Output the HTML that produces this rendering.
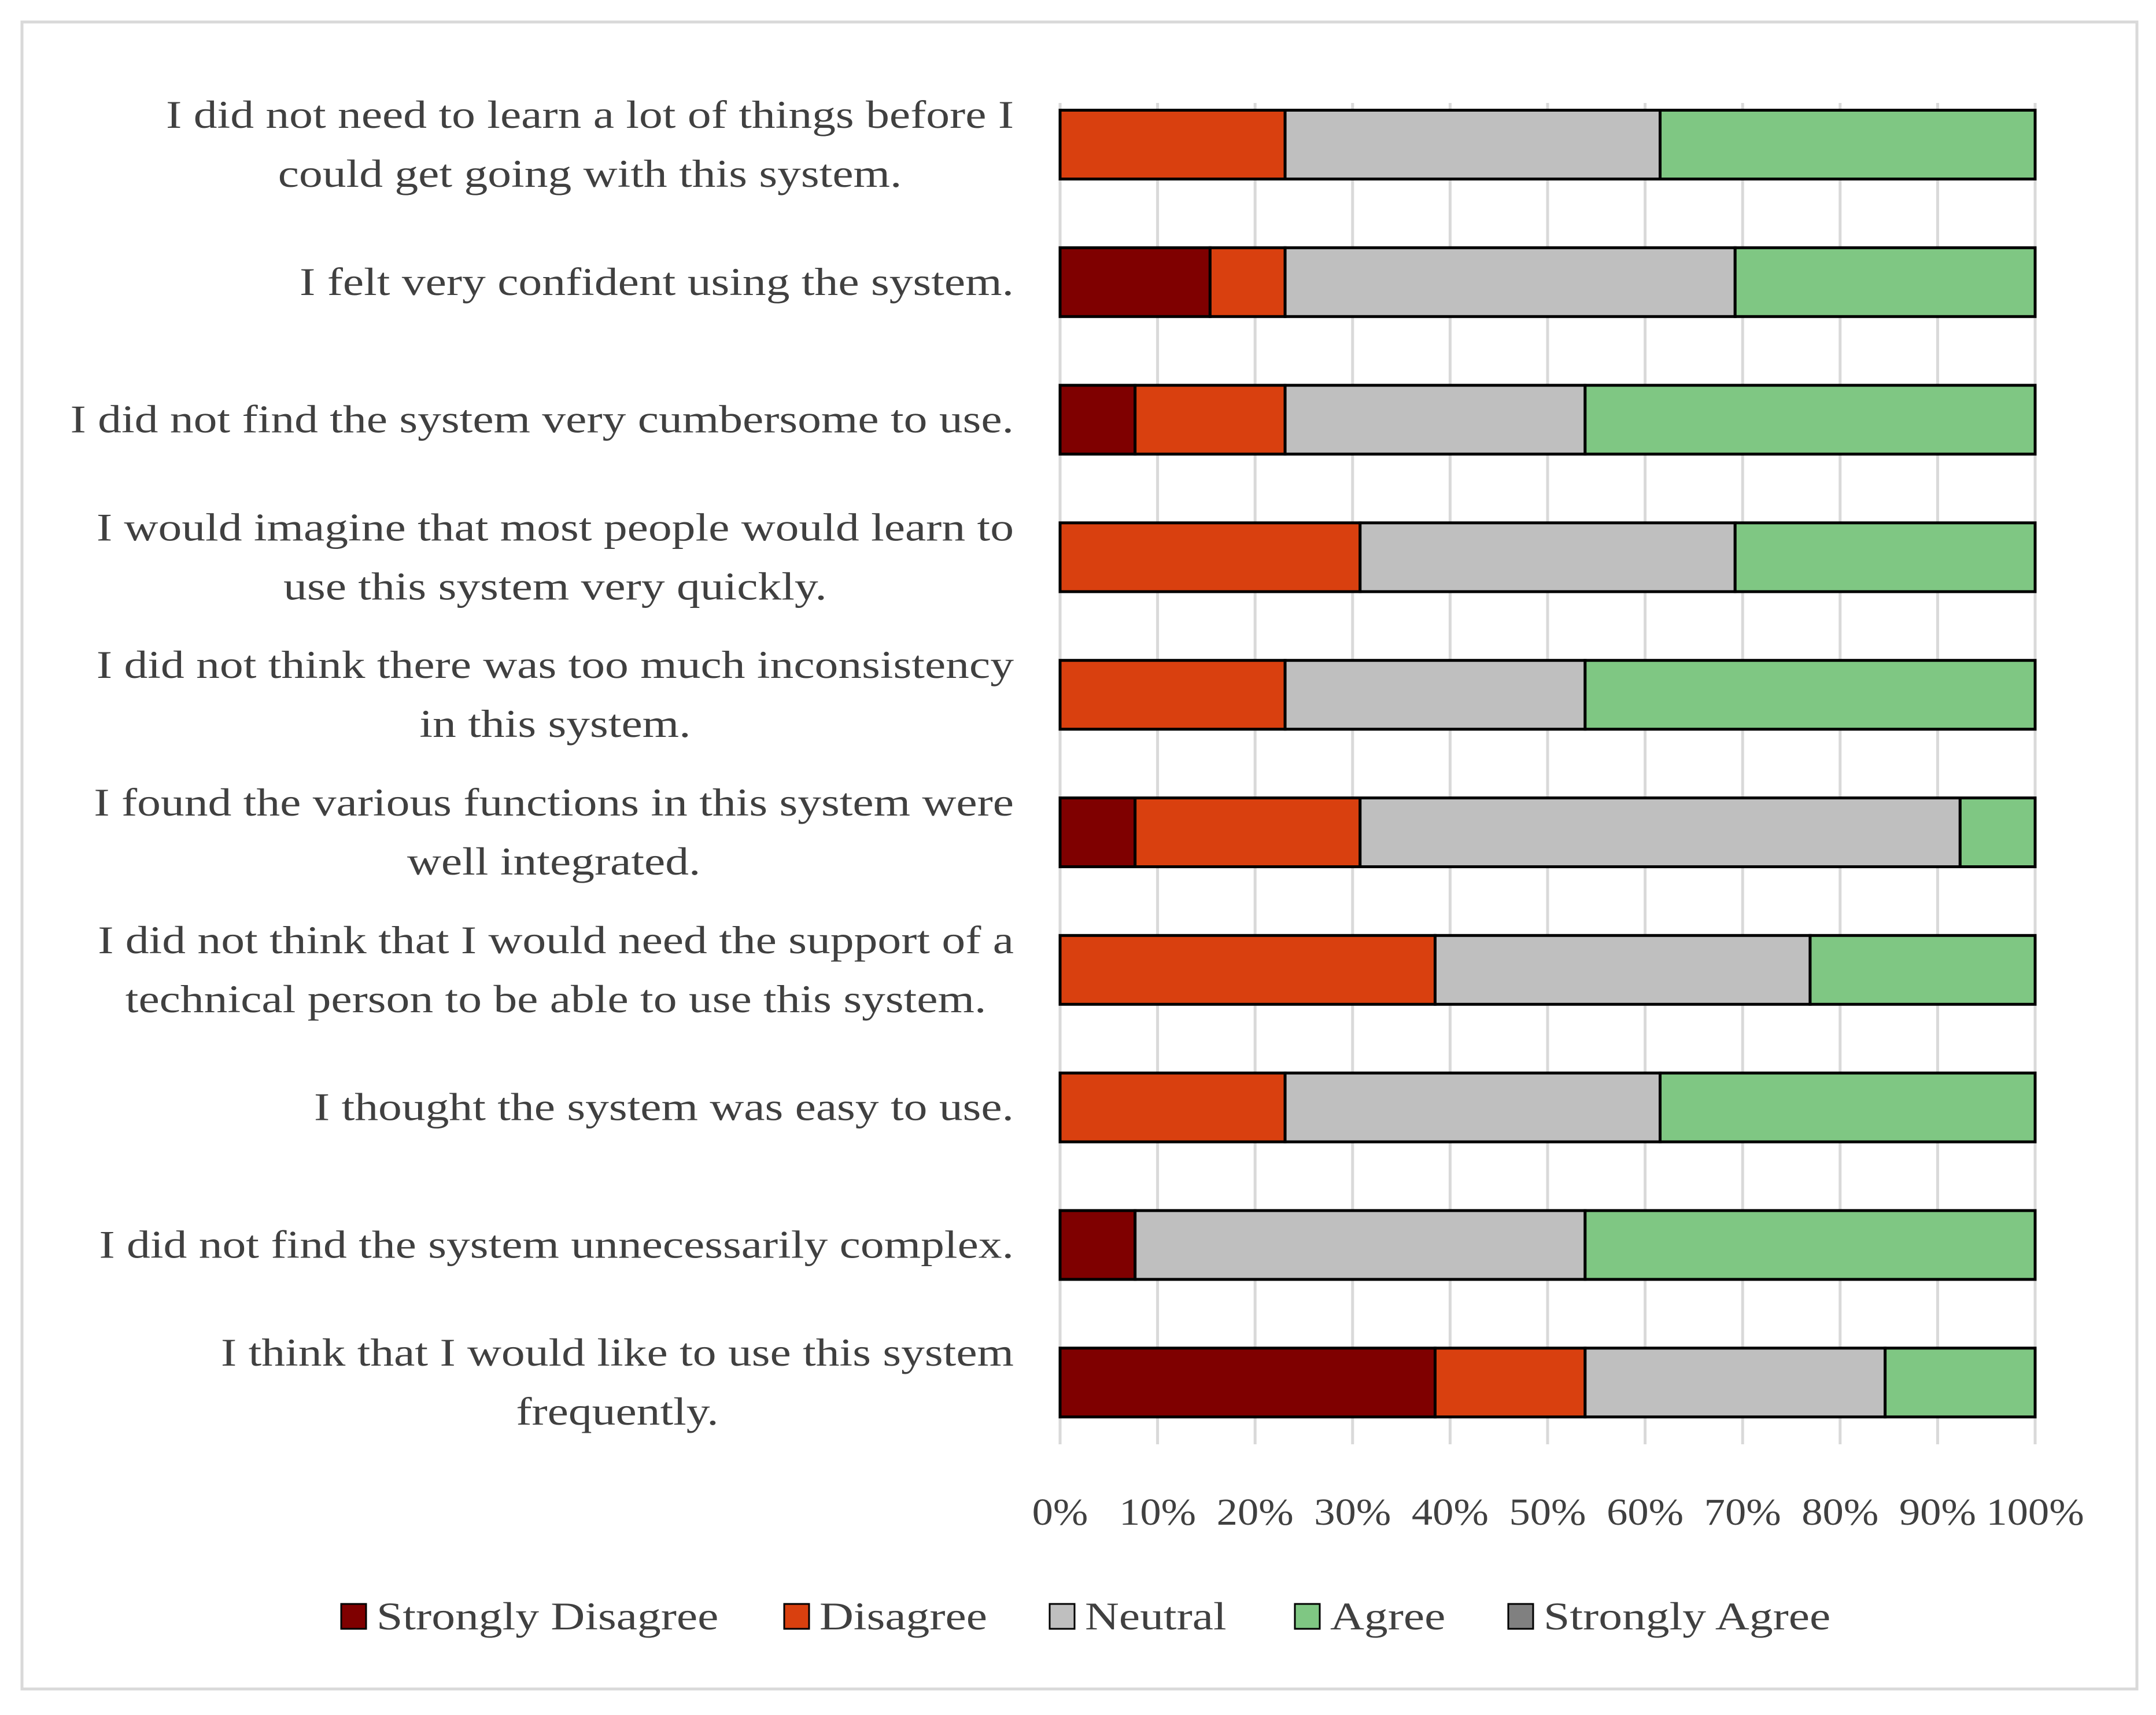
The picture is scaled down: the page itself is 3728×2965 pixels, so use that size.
<!DOCTYPE html>
<html><head><meta charset="utf-8"><style>
html,body{margin:0;padding:0;background:#fff;}
svg{display:block;font-family:"Liberation Serif",serif;}
</style></head><body>
<svg id="chart" width="3728" height="2965" viewBox="0 0 3728 2965">
<rect x="38" y="38" width="3657" height="2882" fill="#fff" stroke="#d9d9d9" stroke-width="5"/>
<g id="grid"></g><g id="bars"></g><g id="labels" transform="translate(1753,0) scale(1.2,1) translate(-1753,0)"></g><g id="ticks"></g><g id="legend"></g>
</svg>
<script>
const categories = [
 ["I did not need to learn a lot of things before I","could get going with this system."],
 ["I felt very confident using the system."],
 ["I did not find the system very cumbersome to use."],
 ["I would imagine that most people would learn to","use this system very quickly."],
 ["I did not think there was too much inconsistency","in this system."],
 ["I found the various functions in this system were","well integrated."],
 ["I did not think that I would need the support of a","technical person to be able to use this system."],
 ["I thought the system was easy to use."],
 ["I did not find the system unnecessarily complex."],
 ["I think that I would like to use this system","frequently."]
];
const stronglyDisagree = [0,2,1,0,0,1,0,0,1,5];
const disagree = [3,1,2,4,3,3,5,3,0,2];
const neutral = [5,6,4,5,4,8,5,5,6,4];
const agree = [5,4,6,4,6,1,3,5,6,2];
const stronglyAgree = [0,0,0,0,0,0,0,0,0,0];
const seriesNames = ["Strongly Disagree","Disagree","Neutral","Agree","Strongly Agree"];
const seriesColors = ["#7f0000","#d9400f","#bfbfbf","#7fc783","#808080"];
const tickLabels = ["0%","10%","20%","30%","40%","50%","60%","70%","80%","90%","100%"];

const NS="http://www.w3.org/2000/svg";
const X0=1833, X1=3519, Y0=250, STEP=237.8, BH=119;
const xs=v=>X0+(X1-X0)*v/100;
const yc=i=>Y0+STEP*i;
function mk(tag,attrs,parent){const e=document.createElementNS(NS,tag);for(const k in attrs)e.setAttribute(k,attrs[k]);parent.appendChild(e);return e;}
const grid=document.getElementById('grid'),bars=document.getElementById('bars'),labels=document.getElementById('labels'),ticks=document.getElementById('ticks'),legend=document.getElementById('legend');
tickLabels.forEach((t,i)=>{
 const v=i*10;
 const l=mk('line',{x1:xs(v),x2:xs(v),y1:178,y2:2497,stroke:'#d9d9d9','stroke-width':5},grid);
 
 
 const tx=mk('text',{x:xs(v),y:2636,'text-anchor':'middle','font-size':66,fill:'#404040',transform:`translate(${xs(v)},0) scale(1.1,1) translate(${-xs(v)},0)`},ticks);
 tx.textContent=t;
 
 
});
const series=[stronglyDisagree,disagree,neutral,agree,stronglyAgree];
categories.forEach((c,i)=>{
 const total=series.reduce((s,a)=>s+a[i],0);
 let acc=0;
 series.forEach((a,si)=>{
  if(a[i]<=0)return;
  const p0=acc/total*100, p1=(acc+a[i])/total*100; acc+=a[i];
  const r=mk('rect',{x:xs(p0),y:yc(i)-BH/2,width:xs(p1)-xs(p0),height:BH,fill:seriesColors[si],stroke:'#000','stroke-width':5},bars);
  
  
 });
 const n=c.length;
 c.forEach((line,li)=>{
  const y=yc(i)+(li-(n-1)/2)*102+22;
  const tx=mk('text',{x:1753,y:y,'text-anchor':n>1?'middle':'end','font-size':68,fill:'#404040'},labels);
  if(n>1){tx.setAttribute('x',0);}
  tx.textContent=line;
  
  
 });
});
(function(){
 const all=[...labels.querySelectorAll('text')];
 let idx=0;
 categories.forEach(c=>{
  const group=all.slice(idx,idx+c.length); idx+=c.length;
  if(c.length>1){
   const w=Math.max(...group.map(g=>g.getComputedTextLength()));
   group.forEach(g=>g.setAttribute('x',1753-w/2));
  }
 });
})();
const legX=[590,1356,1815,2239,2608];
seriesNames.forEach((s,i)=>{
 const r=mk('rect',{x:legX[i],y:2773,width:43,height:43,fill:seriesColors[i],stroke:'#000','stroke-width':3},legend);
 
 
 const tx=legX[i]+61;
 const t=mk('text',{x:tx,y:2817,'font-size':68,fill:'#404040',transform:`translate(${tx},0) scale(1.2,1) translate(${-tx},0)`},legend);
 t.textContent=s;
 
 
});
</script>
</body></html>
